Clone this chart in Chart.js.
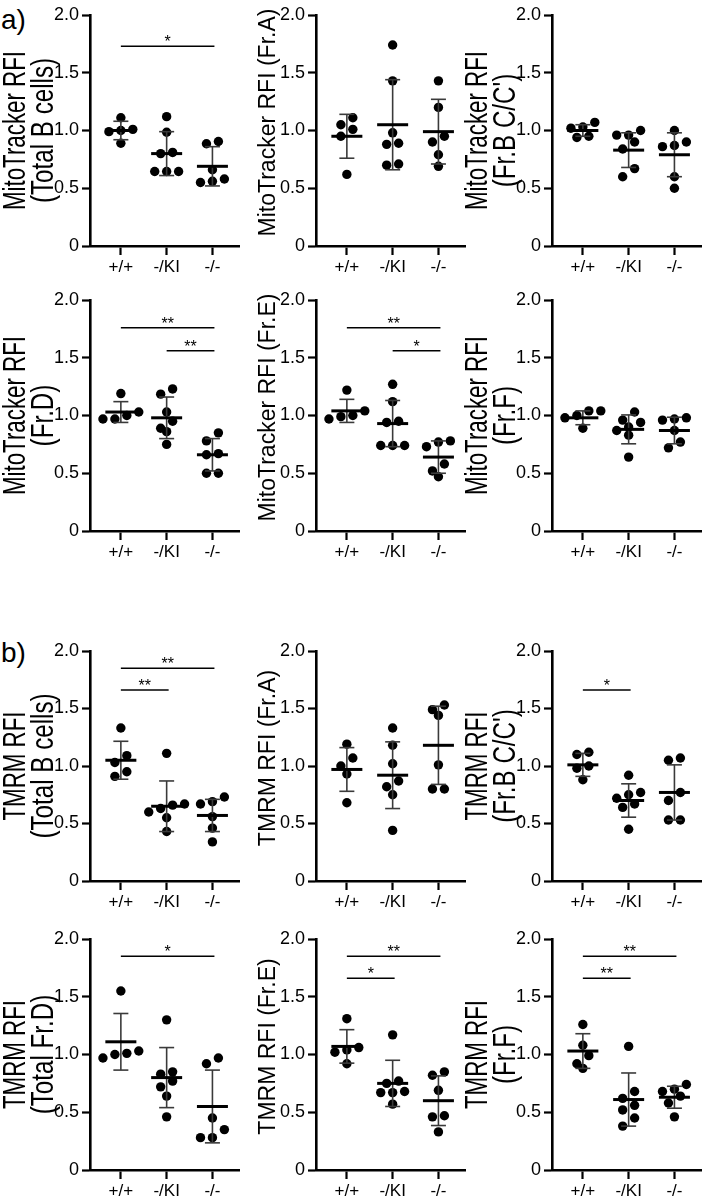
<!DOCTYPE html>
<html>
<head>
<meta charset="utf-8">
<script src="https://cdn.jsdelivr.net/npm/chart.js@4.4.1/dist/chart.umd.min.js"></script>
<style>
  body { margin: 0; background: #fff; width: 708px; height: 1200px; position: relative; overflow: hidden;
         font-family: "Liberation Sans", Arial, sans-serif; }
  canvas { position: absolute; }
  .tag { position: absolute; font-size: 28px; line-height: 1; color: #000; }
</style>
</head>
<body>
<div class="tag" style="left:1px; top:6px">a)</div>
<div class="tag" style="left:1px; top:639px">b)</div>
<script>
const FONT = '"Liberation Sans", Arial, sans-serif';

// ── Data ─────────────────────────────────────────────────────────
const groups = ['+/+', '-/KI', '-/-'];
const yTicks = [0, 0.5, 1.0, 1.5, 2.0];

// a) MitoTracker RFI
const mitoTotalB = [[1.11, 1.01, 1.00, 0.99, 0.89], [1.12, 0.985, 0.81, 0.80, 0.645, 0.645, 0.645], [0.905, 0.885, 0.66, 0.58, 0.56, 0.55]];
const mitoTotalBMean = [1.00, 0.80, 0.69];
const mitoTotalBSd = [0.08, 0.19, 0.17];
const mitoTotalBSig = [[1, 3, 1.73, '*']];

const mitoFrA = [[1.11, 1.05, 1.01, 0.95, 0.62], [1.74, 1.43, 0.98, 0.89, 0.88, 0.71, 0.70], [1.43, 1.20, 0.95, 0.90, 0.79, 0.69]];
const mitoFrAMean = [0.95, 1.05, 0.99];
const mitoFrASd = [0.19, 0.39, 0.28];

const mitoFrBC = [[1.07, 1.03, 1.02, 0.95, 0.94], [1.00, 0.96, 0.96, 0.90, 0.84, 0.67, 0.60], [1.00, 0.90, 0.87, 0.86, 0.60, 0.50]];
const mitoFrBCMean = [1.00, 0.83, 0.79];
const mitoFrBCSd = [0.05, 0.15, 0.19];

const mitoFrD = [[1.19, 1.03, 1.00, 0.97, 0.97], [1.23, 1.185, 1.03, 0.95, 0.89, 0.86, 0.75], [0.85, 0.78, 0.67, 0.66, 0.50, 0.50]];
const mitoFrDMean = [1.03, 0.98, 0.66];
const mitoFrDSd = [0.09, 0.18, 0.14];
const mitoFrDSig = [[1, 3, 1.76, '**'], [2, 3, 1.56, '**']];

const mitoFrE = [[1.22, 1.04, 1.00, 0.99, 0.97], [1.27, 1.12, 0.95, 0.94, 0.74, 0.74, 0.74], [0.78, 0.77, 0.73, 0.58, 0.52, 0.47]];
const mitoFrEMean = [1.04, 0.93, 0.64];
const mitoFrESd = [0.10, 0.20, 0.14];
const mitoFrESig = [[1, 3, 1.76, '**'], [2, 3, 1.56, '*']];

const mitoFrF = [[1.04, 1.04, 1.00, 0.98, 0.89], [1.03, 0.96, 0.94, 0.90, 0.87, 0.83, 0.64], [0.98, 0.97, 0.96, 0.87, 0.77, 0.72]];
const mitoFrFMean = [0.98, 0.88, 0.87];
const mitoFrFSd = [0.06, 0.125, 0.115];

// b) TMRM RFI
const tmrmTotalB = [[1.33, 1.09, 1.03, 0.95, 0.91], [1.11, 0.67, 0.66, 0.63, 0.60, 0.55, 0.43], [0.73, 0.69, 0.67, 0.56, 0.46, 0.34]];
const tmrmTotalBMean = [1.05, 0.65, 0.57];
const tmrmTotalBSd = [0.165, 0.22, 0.14];
const tmrmTotalBSig = [[1, 3, 1.85, '**'], [1, 2, 1.66, '**']];

const tmrmFrA = [[1.19, 1.07, 1.00, 0.93, 0.68], [1.33, 1.18, 1.02, 0.87, 0.82, 0.75, 0.44], [1.53, 1.49, 1.44, 1.01, 0.80, 0.80]];
const tmrmFrAMean = [0.97, 0.92, 1.18];
const tmrmFrASd = [0.19, 0.29, 0.34];

const tmrmFrBC = [[1.12, 1.10, 1.00, 0.98, 0.88], [0.92, 0.77, 0.75, 0.72, 0.67, 0.64, 0.45], [1.07, 1.05, 0.77, 0.70, 0.53, 0.53]];
const tmrmFrBCMean = [1.01, 0.70, 0.77];
const tmrmFrBCSd = [0.10, 0.145, 0.24];
const tmrmFrBCSig = [[1, 2, 1.66, '*']];

const tmrmFrD = [[1.55, 1.03, 1.01, 1.00, 0.97], [1.30, 0.85, 0.83, 0.77, 0.72, 0.64, 0.46], [0.97, 0.92, 0.45, 0.35, 0.28, 0.28]];
const tmrmFrDMean = [1.11, 0.80, 0.55];
const tmrmFrDSd = [0.245, 0.26, 0.315];
const tmrmFrDSig = [[1, 3, 1.85, '*']];

const tmrmFrE = [[1.31, 1.06, 1.04, 1.02, 0.92], [1.17, 0.77, 0.75, 0.68, 0.67, 0.67, 0.57], [0.85, 0.82, 0.69, 0.47, 0.46, 0.33]];
const tmrmFrEMean = [1.07, 0.75, 0.60];
const tmrmFrESd = [0.145, 0.20, 0.215];
const tmrmFrESig = [[1, 3, 1.85, '**'], [1, 2, 1.66, '*']];

const tmrmFrF = [[1.26, 1.08, 0.99, 0.92, 0.88], [1.07, 0.68, 0.62, 0.56, 0.52, 0.45, 0.38], [0.74, 0.70, 0.68, 0.64, 0.58, 0.46]];
const tmrmFrFMean = [1.03, 0.61, 0.63];
const tmrmFrFSd = [0.15, 0.23, 0.095];
const tmrmFrFSig = [[1, 3, 1.85, '**'], [1, 2, 1.66, '**']];

// ── Layout ───────────────────────────────────────────────────────
const COL_AXIS = [90, 316, 552];          // page x of each column's y axis
const ROW_TOP = [15, 300, 651, 939];      // page y of 2.0
const ROW_ZERO = [246, 531, 881, 1170];   // page y of 0
const Y_AXIS_W = 96, X_AXIS_H = 40, PAD_TOP = 24, PLOT_W = 150;
const X_MIN = 0.326, X_MAX = X_MIN + PLOT_W / 46;
const X_PX = PLOT_W / (X_MAX - X_MIN);
const DOT_STEP = 12, ROW_GAP = 9;

const panels = [
  { col: 0, row: 0, title: ['MitoTracker RFI', '(Total B cells)'], vals: mitoTotalB, mean: mitoTotalBMean, sd: mitoTotalBSd, sig: mitoTotalBSig },
  { col: 1, row: 0, title: ['MitoTracker RFI (Fr.A)'], vals: mitoFrA, mean: mitoFrAMean, sd: mitoFrASd, sig: [] },
  { col: 2, row: 0, title: ['MitoTracker RFI', "(Fr.B C/C')"], vals: mitoFrBC, mean: mitoFrBCMean, sd: mitoFrBCSd, sig: [] },
  { col: 0, row: 1, title: ['MitoTracker RFI', '(Fr.D)'], vals: mitoFrD, mean: mitoFrDMean, sd: mitoFrDSd, sig: mitoFrDSig },
  { col: 1, row: 1, title: ['MitoTracker RFI (Fr.E)'], vals: mitoFrE, mean: mitoFrEMean, sd: mitoFrESd, sig: mitoFrESig },
  { col: 2, row: 1, title: ['MitoTracker RFI', '(Fr.F)'], vals: mitoFrF, mean: mitoFrFMean, sd: mitoFrFSd, sig: [] },
  { col: 0, row: 2, title: ['TMRM RFI', '(Total B cells)'], vals: tmrmTotalB, mean: tmrmTotalBMean, sd: tmrmTotalBSd, sig: tmrmTotalBSig },
  { col: 1, row: 2, title: ['TMRM RFI (Fr.A)'], vals: tmrmFrA, mean: tmrmFrAMean, sd: tmrmFrASd, sig: [] },
  { col: 2, row: 2, title: ['TMRM RFI', "(Fr.B C/C')"], vals: tmrmFrBC, mean: tmrmFrBCMean, sd: tmrmFrBCSd, sig: tmrmFrBCSig },
  { col: 0, row: 3, title: ['TMRM RFI', '(Total Fr.D)'], vals: tmrmFrD, mean: tmrmFrDMean, sd: tmrmFrDSd, sig: tmrmFrDSig },
  { col: 1, row: 3, title: ['TMRM RFI (Fr.E)'], vals: tmrmFrE, mean: tmrmFrEMean, sd: tmrmFrESd, sig: tmrmFrESig },
  { col: 2, row: 3, title: ['TMRM RFI', '(Fr.F)'], vals: tmrmFrF, mean: tmrmFrFMean, sd: tmrmFrFSd, sig: tmrmFrFSig },
];

// spread dots with similar values sideways, like a column scatter plot
function swarm(vals, center, yPx) {
  const sorted = [...vals].sort((a, b) => b - a);
  const pts = [];
  let i = 0;
  while (i < sorted.length) {
    const row = [sorted[i]];
    let j = i + 1;
    while (j < sorted.length && (sorted[i] - sorted[j]) * yPx < ROW_GAP) row.push(sorted[j++]);
    row.reverse().forEach((v, k) => {
      pts.push({ x: center + (k - (row.length - 1) / 2) * DOT_STEP / X_PX, y: v });
    });
    i = j;
  }
  return pts;
}

function line(ctx, x1, y1, x2, y2) {
  ctx.beginPath(); ctx.moveTo(x1, y1); ctx.lineTo(x2, y2); ctx.stroke();
}

// mean bar + SD whiskers, and significance brackets
function statsPlugin(p) {
  return {
    id: 'stats',
    afterDatasetsDraw(chart) {
      const { ctx, scales: { x, y } } = chart;
      ctx.save();
      p.mean.forEach((m, i) => {
        const cx = x.getPixelForValue(i + 1);
        const yt = y.getPixelForValue(m + p.sd[i]);
        const yb = y.getPixelForValue(m - p.sd[i]);
        const ym = y.getPixelForValue(m);
        ctx.strokeStyle = '#3a3a3a'; ctx.lineWidth = 1.6;
        line(ctx, cx, yt, cx, yb);
        line(ctx, cx - 7.5, yt, cx + 7.5, yt);
        line(ctx, cx - 7.5, yb, cx + 7.5, yb);
        ctx.strokeStyle = '#000'; ctx.lineWidth = 3;
        line(ctx, cx - 15.5, ym, cx + 15.5, ym);
      });
      ctx.fillStyle = '#000'; ctx.strokeStyle = '#000'; ctx.lineWidth = 1.5;
      ctx.font = `16px ${FONT}`; ctx.textAlign = 'center'; ctx.textBaseline = 'alphabetic';
      p.sig.forEach(([from, to, level, label]) => {
        const x1 = x.getPixelForValue(from), x2 = x.getPixelForValue(to) + 2;
        const yy = y.getPixelForValue(level);
        line(ctx, x1, yy, x2, yy);
        ctx.fillText(label, (x1 + x2) / 2, yy + 1);
      });
      ctx.restore();
    }
  };
}

// rotated y-axis title (two-line titles are set tall and narrow)
function titlePlugin(p) {
  return {
    id: 'ytitle',
    afterDraw(chart) {
      const { ctx, chartArea: a } = chart;
      const cy = (a.top + a.bottom) / 2;
      ctx.save();
      ctx.fillStyle = '#000'; ctx.textAlign = 'center'; ctx.textBaseline = 'alphabetic';
      if (p.title.length === 1) {
        ctx.font = `23px ${FONT}`;
        ctx.translate(a.left - 41, cy - 8);
        ctx.rotate(-Math.PI / 2);
        ctx.fillText(p.title[0], 0, 0);
      } else {
        ctx.font = `31px ${FONT}`;
        p.title.forEach((t, k) => {
          ctx.save();
          ctx.translate(a.left - (k ? 37 : 65), cy);
          ctx.rotate(-Math.PI / 2);
          ctx.scale(k ? 0.78 : 0.72, 1);
          ctx.fillText(t, 0, 0);
          ctx.restore();
        });
      }
      ctx.restore();
    }
  };
}

function makeChart(p) {
  const top2 = ROW_TOP[p.row], zero = ROW_ZERO[p.row];
  const yPx = (zero - top2) / 2;
  const w = Y_AXIS_W + PLOT_W + 4;
  const h = PAD_TOP + (zero - top2) + X_AXIS_H;
  const canvas = document.createElement('canvas');
  canvas.width = w; canvas.height = h;
  canvas.style.width = w + 'px'; canvas.style.height = h + 'px';
  canvas.style.left = (COL_AXIS[p.col] - Y_AXIS_W) + 'px';
  canvas.style.top = (top2 - PAD_TOP) + 'px';
  document.body.appendChild(canvas);

  const points = [];
  p.vals.forEach((g, i) => points.push(...swarm(g, i + 1, yPx)));

  new Chart(canvas.getContext('2d'), {
    type: 'scatter',
    data: {
      datasets: [{
        data: points,
        backgroundColor: '#000',
        borderWidth: 0,
        pointRadius: 4.7,
        pointHoverRadius: 4.7,
      }]
    },
    options: {
      responsive: false,
      animation: false,
      events: [],
      layout: { padding: { top: PAD_TOP, left: 0, right: 4, bottom: 0 } },
      plugins: { legend: { display: false }, tooltip: { enabled: false } },
      scales: {
        x: {
          type: 'linear', min: X_MIN, max: X_MAX,
          afterFit: (s) => { s.height = X_AXIS_H; },
          afterBuildTicks: (s) => { s.ticks = groups.map((_, i) => ({ value: i + 1 })); },
          ticks: { callback: (v) => groups[v - 1], font: { family: FONT, size: 17 }, color: '#000', padding: 2, maxRotation: 0, autoSkip: false },
          grid: { drawOnChartArea: false, tickLength: 9, tickWidth: 2.2, tickColor: '#000' },
          border: { color: '#000', width: 2.6 },
        },
        y: {
          min: 0, max: 2,
          afterFit: (s) => { s.width = Y_AXIS_W; },
          afterBuildTicks: (s) => { s.ticks = yTicks.map((v) => ({ value: v })); },
          ticks: { callback: (v) => (v === 0 ? '0' : v.toFixed(1)), font: { family: FONT, size: 18 }, color: '#000', padding: 3 },
          grid: { drawOnChartArea: false, tickLength: 8, tickWidth: 2.2, tickColor: '#000' },
          border: { color: '#000', width: 2.6 },
        },
      },
    },
    plugins: [statsPlugin(p), titlePlugin(p)],
  });
}

panels.forEach(makeChart);
</script>
</body>
</html>
